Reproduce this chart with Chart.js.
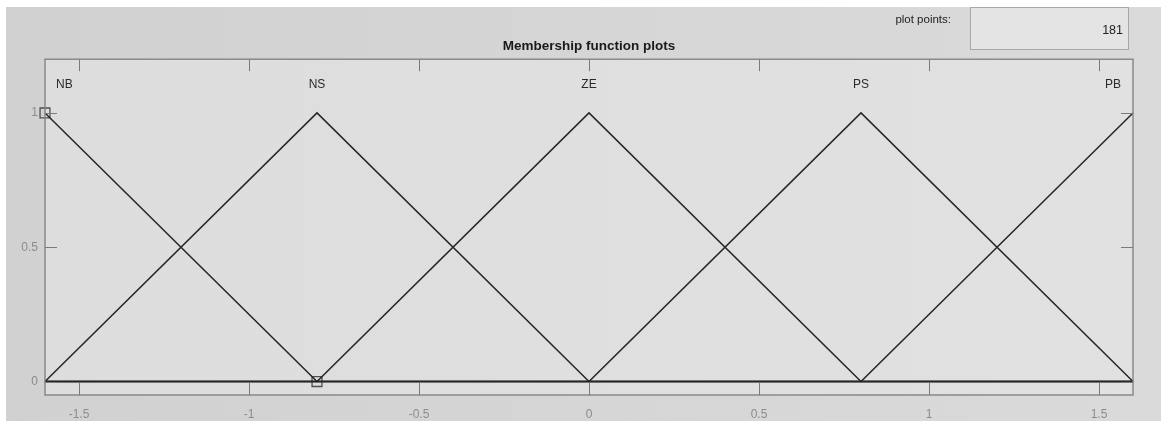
<!DOCTYPE html>
<html>
<head>
<meta charset="utf-8">
<script src="https://cdn.jsdelivr.net/npm/chart.js@4/dist/chart.umd.min.js"></script>
<style>
  html, body { margin: 0; padding: 0; background: #ffffff; }
  canvas { display: block; }
</style>
</head>
<body>
<canvas id="c" width="1161" height="421"></canvas>
<script>
// ---- data ----
const xRange = [-1.6, 1.6];
const yRange = [-0.05, 1.2];
const xTicks = [-1.5, -1, -0.5, 0, 0.5, 1, 1.5];
const xTickLabels = ['-1.5', '-1', '-0.5', '0', '0.5', '1', '1.5'];
const yTicks = [0, 0.5, 1];
const yTickLabels = ['0', '0.5', '1'];
const mfNames = ['NB', 'NS', 'ZE', 'PS', 'PB'];
const mfPeaks = [-1.6, -0.8, 0, 0.8, 1.6];
const nbX = [-1.6, -0.8, 1.6], nbY = [1, 0, 0];
const nsX = [-1.6, -0.8, 0, 1.6], nsY = [0, 1, 0, 0];
const zeX = [-1.6, -0.8, 0, 0.8, 1.6], zeY = [0, 0, 1, 0, 0];
const psX = [-1.6, 0, 0.8, 1.6], psY = [0, 0, 1, 0];
const pbX = [-1.6, 0.8, 1.6], pbY = [0, 0, 1];
const handleX = [-1.6, -0.8], handleY = [1, 0];
const titleText = 'Membership function plots';
const plotPointsLabel = 'plot points:';
const plotPointsValue = '181';

const FONT = '"Liberation Sans", Arial, Helvetica, sans-serif';
const pts = (xs, ys) => xs.map((x, i) => ({ x: x, y: ys[i] }));
const lineDs = (name, xs, ys) => ({
  type: 'line', label: name, data: pts(xs, ys),
  borderColor: '#262626', borderWidth: 1.5, pointRadius: 0,
  tension: 0, fill: false
});

const decor = {
  id: 'decor',
  beforeDraw(chart) {
    const ctx = chart.ctx, a = chart.chartArea;
    ctx.save();
    ctx.fillStyle = '#ffffff';
    ctx.fillRect(0, 0, chart.width, chart.height);
    const g = ctx.createLinearGradient(6, 0, chart.width, 0);
    g.addColorStop(0, '#d1d1d1');
    g.addColorStop(1, '#dadada');
    ctx.fillStyle = g;
    ctx.fillRect(6, 7, chart.width - 6, chart.height - 7);
    const g2 = ctx.createLinearGradient(a.left, 0, a.right, 0);
    g2.addColorStop(0, '#dddddd');
    g2.addColorStop(1, '#e1e1e1');
    ctx.fillStyle = g2;
    ctx.fillRect(a.left, a.top, a.right - a.left, a.bottom - a.top);
    ctx.restore();
  },
  afterDraw(chart) {
    const ctx = chart.ctx, a = chart.chartArea;
    const xs = chart.scales.x, ys = chart.scales.y;
    ctx.save();
    // ticks (inward, all four sides)
    ctx.strokeStyle = '#7a7a7a';
    ctx.lineWidth = 1;
    const TL = 12;
    ctx.beginPath();
    xs.ticks.forEach(t => {
      const px = Math.round(xs.getPixelForValue(t.value)) + 0.5;
      ctx.moveTo(px, a.bottom); ctx.lineTo(px, a.bottom - TL);
      ctx.moveTo(px, a.top); ctx.lineTo(px, a.top + TL);
    });
    ys.ticks.forEach(t => {
      const py = Math.round(ys.getPixelForValue(t.value)) + 0.5;
      ctx.moveTo(a.left, py); ctx.lineTo(a.left + TL, py);
      ctx.moveTo(a.right, py); ctx.lineTo(a.right - TL, py);
    });
    ctx.stroke();
    // box
    ctx.strokeStyle = '#7d7d7d';
    ctx.lineWidth = 1.3;
    ctx.strokeRect(a.left, a.top, a.right - a.left, a.bottom - a.top);
    // MF names
    ctx.fillStyle = '#2a2a2a';
    ctx.font = '12px ' + FONT;
    ctx.textBaseline = 'middle';
    ctx.textAlign = 'center';
    mfNames.forEach((n, i) => {
      const w = ctx.measureText(n).width;
      let px = xs.getPixelForValue(mfPeaks[i]);
      px = Math.max(a.left + 11 + w / 2, Math.min(a.right - 12 - w / 2, px));
      ctx.fillText(n, px, 85);
    });
    // plot points box
    ctx.fillStyle = '#e4e4e4';
    ctx.fillRect(970, 7, 159, 43);
    ctx.strokeStyle = '#a8a8a8';
    ctx.lineWidth = 1;
    ctx.strokeRect(970.5, 7.5, 158, 42);
    ctx.fillStyle = '#222222';
    ctx.font = '11.5px ' + FONT;
    ctx.textAlign = 'right';
    ctx.fillText(plotPointsLabel, 951, 20);
    ctx.font = '12.5px ' + FONT;
    ctx.fillText(plotPointsValue, 1123, 31);
    ctx.restore();
  }
};

new Chart(document.getElementById('c'), {
  type: 'line',
  data: {
    datasets: [
      lineDs(mfNames[0], nbX, nbY),
      lineDs(mfNames[1], nsX, nsY),
      lineDs(mfNames[2], zeX, zeY),
      lineDs(mfNames[3], psX, psY),
      lineDs(mfNames[4], pbX, pbY),
      {
        type: 'scatter', label: 'handles', data: pts(handleX, handleY),
        pointStyle: 'rect', pointRadius: 7, pointBorderWidth: 1.3,
        pointBorderColor: '#505050', pointBackgroundColor: 'rgba(0,0,0,0)'
      }
    ]
  },
  options: {
    responsive: false,
    animation: false,
    clip: false,
    layout: { padding: { left: 0, top: 0, right: 28, bottom: 0 } },
    plugins: {
      legend: { display: false },
      tooltip: { enabled: false },
      title: {
        display: true, text: titleText, fullSize: false,
        color: '#1a1a1a',
        font: { family: FONT, size: 13.5, weight: 'bold', lineHeight: 1.2 },
        padding: { top: 38, bottom: 5 }
      }
    },
    scales: {
      x: {
        type: 'linear', min: xRange[0], max: xRange[1],
        afterBuildTicks: s => { s.ticks = xTicks.map(v => ({ value: v })); },
        afterFit: s => { s.height = 26; },
        grid: { display: false, drawTicks: false },
        border: { display: false },
        ticks: {
          padding: 12, color: '#8c8c8c', maxRotation: 0, autoSkip: false,
          font: { family: FONT, size: 12 },
          callback: (v) => xTickLabels[xTicks.indexOf(v)] ?? ''
        }
      },
      y: {
        type: 'linear', min: yRange[0], max: yRange[1],
        afterBuildTicks: s => { s.ticks = yTicks.map(v => ({ value: v })); },
        afterFit: s => { s.width = 45; },
        grid: { display: false, drawTicks: false },
        border: { display: false },
        ticks: {
          padding: 7, color: '#8c8c8c', autoSkip: false,
          font: { family: FONT, size: 12 },
          callback: (v) => yTickLabels[yTicks.indexOf(v)] ?? ''
        }
      }
    }
  },
  plugins: [decor]
});
</script>
</body>
</html>
